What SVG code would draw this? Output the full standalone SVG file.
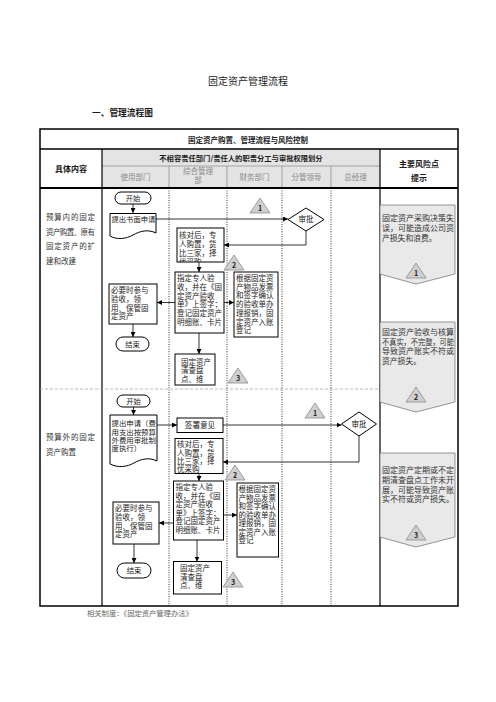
<svg xmlns="http://www.w3.org/2000/svg" width="496" height="702" viewBox="0 0 496 702">
<style>
text{font-family:"Noto Sans CJK SC","Noto Sans CJK JP",sans-serif;fill:#1a1a1a}
.b{font-weight:bold}
.m{text-anchor:middle}
.h{font-size:7.5px;fill:#8a8a8a}
.bt{font-size:7.5px;fill:#222}
.box{fill:#fff;stroke:#000;stroke-width:1}
.arr{fill:none;stroke:#000;stroke-width:0.8;marker-end:url(#ah)}
.tri{fill:#cfcfcf;stroke:#8c8c8c;stroke-width:0.8}
.tn{font-size:7px;font-weight:bold;text-anchor:middle}
.risk{fill:#e9e9e9;stroke:#7a7a7a;stroke-width:0.8}
.rt{font-size:7.8px;fill:#333}
.lt{font-size:7.5px;fill:#333}
.dot{stroke:#000;stroke-width:0.8;stroke-dasharray:1 1.4}
</style>
<defs>
<marker id="ah" viewBox="0 0 6 6" refX="6" refY="3" markerWidth="5" markerHeight="5" markerUnits="userSpaceOnUse" orient="auto"><path d="M0,0 L6,3 L0,6 Z" fill="#000"/></marker>
<polygon id="tri" points="0,-8 10,7 -10,7"/>
<clipPath id="c1"><rect x="177" y="228" width="47" height="34"/></clipPath>
<clipPath id="c2"><rect x="175" y="438.5" width="48" height="35"/></clipPath>
</defs>

<text x="248" y="85" class="m" font-size="10">固定资产管理流程</text>
<text x="92" y="116" class="b" font-size="8.7">一、管理流程图</text>

<g id="table">
<rect x="102" y="149" width="278" height="39" fill="#e4e4e4"/>
<rect x="40" y="129" width="418" height="477" fill="none" stroke="#000" stroke-width="1.5"/>
<line x1="40" y1="149" x2="458" y2="149" stroke="#000" stroke-width="1.5"/>
<line x1="102" y1="166" x2="380" y2="166" stroke="#777" stroke-width="0.6"/>
<line x1="169" y1="166" x2="169" y2="188" stroke="#777" stroke-width="0.6"/>
<line x1="227" y1="166" x2="227" y2="188" stroke="#777" stroke-width="0.6"/>
<line x1="282" y1="166" x2="282" y2="188" stroke="#777" stroke-width="0.6"/>
<line x1="331" y1="166" x2="331" y2="188" stroke="#777" stroke-width="0.6"/>
<line x1="102" y1="149" x2="102" y2="606" stroke="#000" stroke-width="1.2"/>
<line x1="380" y1="149" x2="380" y2="606" stroke="#000" stroke-width="1.2"/>
<line x1="40" y1="188" x2="458" y2="188" stroke="#000" stroke-width="1.8"/>
<line x1="169" y1="188" x2="169" y2="606" class="dot"/>
<line x1="227" y1="188" x2="227" y2="606" class="dot" stroke-width="1.4"/>
<line x1="282" y1="188" x2="282" y2="606" class="dot"/>
<line x1="331" y1="188" x2="331" y2="606" class="dot"/>
<line x1="40" y1="389" x2="380" y2="389" stroke="#999" stroke-width="0.7" stroke-dasharray="3 2"/>
<text x="248" y="142.5" class="b m" font-size="7.5">固定资产购置、管理流程与风险控制</text>
<text x="241" y="160.5" class="b m" font-size="7.3">不相容责任部门/责任人的职责分工与审批权限划分</text>
<text x="135.5" y="180" class="h m">使用部门</text>
<text x="198" y="173.5" class="h m">综合管理</text>
<text x="198" y="183" class="h m">部</text>
<text x="254.5" y="180" class="h m">财务部门</text>
<text x="306.5" y="180" class="h m">分管领导</text>
<text x="355.5" y="180" class="h m">总经理</text>
<text x="71" y="171.5" class="b m" font-size="8">具体内容</text>
<text x="419" y="167" class="b m" font-size="8">主要风险点</text>
<text x="419" y="181" class="b m" font-size="8">提示</text>
<text class="lt"><tspan x="46" y="220" textLength="49" lengthAdjust="spacing">预算内的固定</tspan><tspan x="46" y="234.5" textLength="49" lengthAdjust="spacing">资产购置、原有</tspan><tspan x="46" y="249" textLength="49" lengthAdjust="spacing">固定资产的扩</tspan><tspan x="46" y="263.5">建和改建</tspan></text>
<text class="lt"><tspan x="46" y="440" textLength="49" lengthAdjust="spacing">预算外的固定</tspan><tspan x="46" y="455">资产购置</tspan></text>
</g>

<g id="connectors">
<path class="arr" d="M133,204 V213"/>
<path class="arr" d="M156,219 H288"/>
<path class="arr" d="M306,231 V245 H224"/>
<path class="arr" d="M199,262 V272"/>
<path class="arr" d="M175,302.5 H157"/>
<path class="arr" d="M224,302.5 H234"/>
<path class="arr" d="M133,324 V337"/>
<path class="arr" d="M199,333 V354"/>
<path class="arr" d="M133.5,407 V415"/>
<path class="arr" d="M157,425 H177"/>
<path class="arr" d="M223,425 H341.5" stroke="#333" stroke-width="1"/>
<path class="arr" d="M359,436 V462 H223"/>
<path class="arr" d="M199,473.5 V481"/>
<path class="arr" d="M173.5,523 H159"/>
<path class="arr" d="M223.5,515 H237"/>
<path class="arr" d="M134,544 V563"/>
<path class="arr" d="M197,540 V561.5"/>
</g>

<g id="start1"><rect x="115" y="192" width="36" height="12" rx="6" class="box"/><text x="133" y="200.7" class="m" font-size="7.3">开始</text></g>
<g id="apply1"><path d="M110,213.5 H156 V233 C148,229 140,231 133,235 C126,239 117,240 110,236 Z" class="box"/><text x="111.5" y="222.3" font-size="7.3" fill="#222">提出书面申请</text></g>
<g id="approve1"><path d="M306,208 L324,219.5 L306,231 L288,219.5 Z" class="box"/><text x="306" y="222.3" class="m" font-size="7.5">审批</text></g>
<g id="w1a"><use href="#tri" x="260" y="206" class="tri"/><text x="260" y="210.5" class="tn">1</text></g>
<g id="check1"><rect x="177" y="228" width="47" height="34" class="box"/><text class="bt" clip-path="url(#c1)"><tspan x="179" y="237.8">核对后，专</tspan><tspan x="179" y="246.8">人购置，货</tspan><tspan x="179" y="255.8">比三家，择</tspan><tspan x="179" y="264.5">优采购</tspan></text></g>
<g id="w2a"><use href="#tri" x="234" y="263" class="tri"/><text x="234" y="267.5" class="tn">2</text></g>
<g id="accept1"><rect x="175" y="272" width="49" height="61" class="box"/><text class="bt"><tspan x="177" y="281">指定专人验</tspan><tspan x="177" y="289.8">收，并在《固</tspan><tspan x="177" y="298.6">定资产验收</tspan><tspan x="177" y="307.4">单》上签字；</tspan><tspan x="177" y="316.2">登记固定资产</tspan><tspan x="177" y="325">明细账、卡片</tspan></text></g>
<g id="finance1"><rect x="234" y="272" width="44" height="65" class="box"/><text class="bt"><tspan x="236" y="281">根据固定资</tspan><tspan x="236" y="289.7">产物品发票</tspan><tspan x="236" y="298.4">和签字确认</tspan><tspan x="236" y="307.1">的验收单办</tspan><tspan x="236" y="315.8">理报销，固</tspan><tspan x="236" y="324.5">定资产入账</tspan><tspan x="236" y="333.2">登记</tspan></text></g>
<g id="use1"><rect x="109" y="284" width="48" height="40" class="box"/><text class="bt"><tspan x="111" y="293">必要时参与</tspan><tspan x="111" y="301.8">验收，领</tspan><tspan x="111" y="310.6">用、保管固</tspan><tspan x="111" y="319.4">定资产</tspan></text></g>
<g id="end1"><rect x="116" y="337" width="33" height="14" rx="7" class="box"/><text x="132.5" y="346.8" class="m" font-size="7.3">结束</text></g>
<g id="inventory1"><rect x="175" y="354" width="40" height="31" class="box"/><text class="bt"><tspan x="181" y="364.5">固定资产</tspan><tspan x="181" y="373">清查盘</tspan><tspan x="181" y="381.5">点、维</tspan></text></g>
<g id="w3a"><use href="#tri" x="238" y="376" class="tri"/><text x="238" y="380.5" class="tn">3</text></g>

<g id="start2"><rect x="117" y="395" width="33" height="12" rx="6" class="box"/><text x="133.5" y="403.7" class="m" font-size="7.3">开始</text></g>
<g id="apply2"><path d="M110,415 H157 V461 C149,457 141,459 134,463 C127,467 118,468 110,464 Z" class="box"/><text font-size="7.4" fill="#222"><tspan x="111.5" y="426.2">提出申请（费</tspan><tspan x="111.5" y="434.6">用支出按预算</tspan><tspan x="111.5" y="443">外费用审批制</tspan><tspan x="111.5" y="451.4">度执行）</tspan></text></g>
<g id="sign2"><rect x="177" y="418" width="46" height="14.5" class="box"/><text x="200" y="428.2" class="m" font-size="7.6">签署意见</text></g>
<g id="approve2"><path d="M359,412 L376.5,424 L359,436 L341.5,424 Z" class="box"/><text x="359" y="426.8" class="m" font-size="7.5">审批</text></g>
<g id="w1b"><use href="#tri" x="315" y="411" class="tri"/><text x="315" y="415.5" class="tn">1</text></g>
<g id="check2"><rect x="175" y="438.5" width="48" height="35" class="box"/><text class="bt" clip-path="url(#c2)"><tspan x="177" y="447.3">核对后，专</tspan><tspan x="177" y="455.6">人购置，货</tspan><tspan x="177" y="463.9">比三家，择</tspan><tspan x="177" y="472.2">优采购</tspan></text></g>
<g id="w2b"><use href="#tri" x="235" y="473" class="tri"/><text x="235" y="477.5" class="tn">2</text></g>
<g id="accept2"><rect x="173.5" y="481" width="50" height="59" class="box"/><text class="bt"><tspan x="175.5" y="490">指定专人验</tspan><tspan x="175.5" y="498.5">收，并在《固</tspan><tspan x="175.5" y="507">定资产验收</tspan><tspan x="175.5" y="515.5">单》上签字；</tspan><tspan x="175.5" y="524">登记固定资产</tspan><tspan x="175.5" y="532.5">明细账、卡片</tspan></text></g>
<g id="finance2"><rect x="237" y="483" width="41.5" height="74" class="box"/><text class="bt"><tspan x="238.5" y="492">根据固定资</tspan><tspan x="238.5" y="500.5">产物品发票</tspan><tspan x="238.5" y="509">和签字确认</tspan><tspan x="238.5" y="517.5">的验收单办</tspan><tspan x="238.5" y="526">理报销，固</tspan><tspan x="238.5" y="534.5">定资产入账</tspan><tspan x="238.5" y="543">登记</tspan></text></g>
<g id="use2"><rect x="113" y="502" width="46" height="42" class="box"/><text class="bt"><tspan x="115" y="511.3">必要时参与</tspan><tspan x="115" y="519.9">验收，领</tspan><tspan x="115" y="528.5">用、保管固</tspan><tspan x="115" y="537.1">定资产</tspan></text></g>
<g id="end2"><rect x="117" y="563" width="34" height="15" rx="7.5" class="box"/><text x="134" y="573.2" class="m" font-size="7.3">结束</text></g>
<g id="inventory2"><rect x="173.5" y="561.5" width="48" height="32.5" class="box"/><text class="bt"><tspan x="180" y="571">固定资产</tspan><tspan x="180" y="579.5">清查盘</tspan><tspan x="180" y="588">点、维</tspan></text></g>
<g id="w3b"><use href="#tri" x="233" y="580" class="tri"/><text x="233" y="584.5" class="tn">3</text></g>

<g id="risk1"><path d="M380,205 H455 V274 L416,284 L380,274 Z" class="risk"/><text class="rt"><tspan x="382" y="221.3" textLength="72" lengthAdjust="spacingAndGlyphs">固定资产采购决策失</tspan><tspan x="382" y="231" textLength="72" lengthAdjust="spacingAndGlyphs">误，可能造成公司资</tspan><tspan x="382" y="240.7">产损失和浪费。</tspan></text><use href="#tri" x="416" y="271" class="tri"/><text x="416" y="275.5" class="tn">1</text></g>
<g id="risk2"><path d="M380,322 H455 V402 L416,412 L380,402 Z" class="risk"/><text class="rt"><tspan x="382" y="334.7" textLength="72" lengthAdjust="spacingAndGlyphs">固定资产验收与核算</tspan><tspan x="382" y="344.5" textLength="72" lengthAdjust="spacingAndGlyphs">不真实，不完整，可能</tspan><tspan x="382" y="354.3" textLength="72" lengthAdjust="spacingAndGlyphs">导致资产账实不符或</tspan><tspan x="382" y="364">资产损失。</tspan></text><use href="#tri" x="416" y="395" class="tri"/><text x="416" y="399.5" class="tn">2</text></g>
<g id="risk3"><path d="M380,453 H455 V537 L416,547 L380,537 Z" class="risk"/><text class="rt"><tspan x="382" y="473" textLength="72" lengthAdjust="spacingAndGlyphs">固定资产定期或不定</tspan><tspan x="382" y="482.8" textLength="72" lengthAdjust="spacingAndGlyphs">期清查盘点工作未开</tspan><tspan x="382" y="492.6" textLength="72" lengthAdjust="spacingAndGlyphs">展，可能导致资产账</tspan><tspan x="382" y="502.3" textLength="72" lengthAdjust="spacingAndGlyphs">实不符或资产损失。</tspan></text><use href="#tri" x="416" y="533" class="tri"/><text x="416" y="537.5" class="tn">3</text></g>

<text x="87" y="616" font-size="7.3" style="fill:#666">相关制度：《固定资产管理办法》</text>
</svg>
